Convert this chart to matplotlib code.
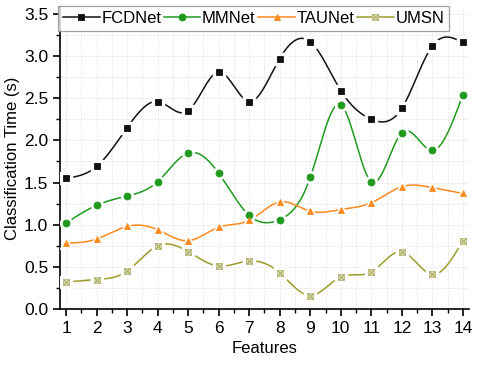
import numpy as np
import matplotlib
matplotlib.use("Agg")
import matplotlib.pyplot as plt
from matplotlib.ticker import MultipleLocator
from matplotlib.legend_handler import HandlerTuple
from matplotlib.lines import Line2D

plt.rcParams['font.family'] = ['Liberation Sans', 'DejaVu Sans']

features = list(range(1, 15))
fcdnet = [1.55, 1.69, 2.15, 2.46, 2.35, 2.81, 2.46, 2.97, 3.17, 2.59, 2.25, 2.38, 3.12, 3.16]
mmnet = [1.02, 1.23, 1.34, 1.51, 1.85, 1.61, 1.11, 1.06, 1.56, 2.42, 1.51, 2.09, 1.88, 2.54]
taunet = [0.78, 0.83, 0.98, 0.94, 0.81, 0.97, 1.05, 1.27, 1.16, 1.18, 1.26, 1.45, 1.44, 1.37]
umsn = [0.32, 0.35, 0.45, 0.75, 0.68, 0.51, 0.57, 0.43, 0.16, 0.38, 0.44, 0.68, 0.41, 0.81]


def spline(x, y, n=20):
    # natural cubic spline, only used to draw the smooth connecting curve
    x = np.asarray(x, float)
    y = np.asarray(y, float)
    m = len(x)
    h = np.diff(x)
    A = np.zeros((m, m))
    b = np.zeros(m)
    A[0, 0] = A[-1, -1] = 1
    for i in range(1, m - 1):
        A[i, i - 1] = h[i - 1]
        A[i, i] = 2 * (h[i - 1] + h[i])
        A[i, i + 1] = h[i]
        b[i] = 3 * ((y[i + 1] - y[i]) / h[i] - (y[i] - y[i - 1]) / h[i - 1])
    c = np.linalg.solve(A, b)
    xs, ys = [], []
    for i in range(m - 1):
        bb = (y[i + 1] - y[i]) / h[i] - h[i] * (2 * c[i] + c[i + 1]) / 3
        d = (c[i + 1] - c[i]) / (3 * h[i])
        t = np.linspace(0, h[i], n, endpoint=False)
        xs.extend(x[i] + t)
        ys.extend(y[i] + bb * t + c[i] * t ** 2 + d * t ** 3)
    xs.append(x[-1])
    ys.append(y[-1])
    return np.array(xs), np.array(ys)


fig, ax = plt.subplots(figsize=(4.8, 3.71), dpi=100)
fig.subplots_adjust(left=0.125, right=0.977, bottom=0.167, top=0.981)

series = [
    ("FCDNet", fcdnet, '#111111', 's', '#111111', '#111111'),
    ("MMNet", mmnet, '#1f9a1f', 'o', '#1f9a1f', '#1f9a1f'),
    ("TAUNet", taunet, '#ff8a1e', '^', '#ff8a1e', '#ff8a1e'),
    ("UMSN", umsn, '#9c9c2c', 's', '#dcdcae', '#b8b878'),
]

ms = 5
handles = []
for name, vals, col, mk, fc, ec in series:
    sx, sy = spline(features, vals)
    ax.plot(sx, sy, color=col, lw=1.1, zorder=2)
    ax.plot(features, vals, ls='none', marker=mk, ms=ms + 3.5, mfc='white', mec='white', zorder=3)
    ax.plot(features, vals, ls='none', marker=mk, ms=ms, mfc=fc, mec=ec, mew=0.6, zorder=4)
    if name == "UMSN":
        ax.plot(features, vals, ls='none', marker='x', ms=4, mec='#a8a868', mew=0.7, zorder=5)
        h = (Line2D([], [], color=col, lw=1.1, marker='s', ms=ms, mfc=fc, mec=ec, mew=0.6),
             Line2D([], [], ls='none', marker='x', ms=4, mec='#a8a868', mew=0.7))
    else:
        h = Line2D([], [], color=col, lw=1.1, marker=mk, ms=ms, mfc=fc, mec=ec, mew=0.6)
    handles.append(h)

ax.set_xlim(0.8, 14.2)
ax.set_ylim(0, 3.58)
ax.xaxis.set_major_locator(MultipleLocator(1))
ax.xaxis.set_minor_locator(MultipleLocator(0.5))
ax.yaxis.set_major_locator(MultipleLocator(0.5))
ax.yaxis.set_minor_locator(MultipleLocator(0.25))
ax.grid(True, which='both', color='#ebebeb', lw=0.7, ls=(0, (2, 1)))
ax.set_axisbelow(True)
ax.spines['top'].set_visible(False)
ax.spines['right'].set_visible(False)
ax.spines['left'].set_linewidth(1.2)
ax.spines['bottom'].set_linewidth(1.2)
ax.tick_params(which='major', direction='out', length=5, width=1.2, labelsize=12.5)
ax.tick_params(which='minor', direction='out', length=3, width=1.0)
ax.set_xlabel("Features", fontsize=12)
ax.set_ylabel("Classification Time (s)", fontsize=12, labelpad=3)

leg = ax.legend(handles, [s[0] for s in series], ncol=4, loc='upper left',
                bbox_to_anchor=(-0.005, 1.005), fontsize=12, frameon=True, fancybox=False,
                edgecolor='#888888', borderpad=0.3, columnspacing=0.15, handlelength=2.2,
                handletextpad=0.1, borderaxespad=0,
                handler_map={tuple: HandlerTuple(ndivide=1, pad=0)})
leg.get_frame().set_linewidth(0.9)

fig.savefig("out.png", dpi=100)
